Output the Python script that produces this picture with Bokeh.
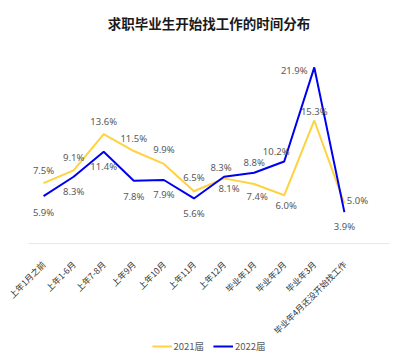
from bokeh.plotting import figure
from bokeh.layouts import column
from bokeh.models import Range1d, FixedTicker, Legend, LegendItem, ColumnDataSource
from bokeh.core.properties import value
from bokeh.embed import file_html
from bokeh.resources import INLINE

categories = ["上年1月之前", "上年1-6月", "上年7-8月", "上年9月", "上年10月", "上年11月",
              "上年12月", "毕业年1月", "毕业年2月", "毕业年3月", "毕业年4月还没开始找工作"]
series_2021 = [7.5, 9.1, 13.6, 11.5, 9.9, 6.5, 8.1, 7.4, 6.0, 15.3, 5.0]
series_2022 = [5.9, 8.3, 11.4, 7.8, 7.9, 5.6, 8.3, 8.8, 10.2, 21.9, 3.9]
series_names = ["2021届", "2022届"]
title_text = "求职毕业生开始找工作的时间分布"

# label placement (screen px offsets from each point; +y is down)
off_2021_x = [0, 0, 0, 0, 0, 0, 5, 3, 2, 0, 13]
off_2021_y = [-13, -13, -13, -13, -14, -14, 10, 12, 10, -9, -3]
off_2022_x = [0, 0, 0, 0, 0, 0, -3, 0, -8, -20, 0]
off_2022_y = [16, 15, 15, 16, 15, 15, -9, -10, -10, 3, 14]

YELLOW = "#FFD23F"
BLUE = "#0000F0"
LABEL_COLOR = "#595959"

xs = list(range(len(categories)))

p = figure(width=400, height=348, output_backend="svg", toolbar_location=None,
           x_range=Range1d(-0.5, 11.5), y_range=Range1d(0, 25),
           min_border_left=28, min_border_right=11, min_border_top=42, min_border_bottom=105)
p.outline_line_color = None
p.xgrid.visible = False
p.ygrid.visible = False
p.yaxis.visible = False
p.background_fill_color = "white"
p.border_fill_color = "white"

p.title.text = title_text
p.title.align = "center"
p.title.text_font = "Noto Sans CJK SC"
p.title.text_font_size = "13.5px"
p.title.text_font_style = "bold"
p.title.text_color = "#1a1a1a"
p.title.standoff = 20

ax = p.xaxis[0]
ax.ticker = FixedTicker(ticks=xs)
ax.major_label_overrides = {i: c for i, c in enumerate(categories)}
ax.major_label_orientation = 0.785398
ax.major_label_text_font = "Noto Sans CJK SC"
ax.major_label_text_font_size = "8.5px"
ax.major_label_text_color = "#333333"
ax.major_label_standoff = 13
ax.axis_line_color = "#E8E8E8"
ax.axis_line_width = 1
ax.major_tick_line_color = None
ax.minor_tick_line_color = None

src21 = ColumnDataSource(dict(x=xs, y=series_2021,
                              t=[f"{v:.1f}%" for v in series_2021],
                              dx=off_2021_x, dy=off_2021_y))
src22 = ColumnDataSource(dict(x=xs, y=series_2022,
                              t=[f"{v:.1f}%" for v in series_2022],
                              dx=off_2022_x, dy=off_2022_y))

p.line("x", "y", source=src21, line_color=YELLOW, line_width=2)
p.line("x", "y", source=src22, line_color=BLUE, line_width=2)

for src in (src21, src22):
    p.text("x", "y", text="t", source=src, x_offset="dx", y_offset="dy",
           text_align="center", text_baseline="middle",
           text_font=value("Noto Sans"), text_font_size="9.5px",
           text_color=LABEL_COLOR)

# legend strip below the chart
lg = figure(width=400, height=20, output_backend="svg", toolbar_location=None,
            x_range=Range1d(-0.5, 11.5), y_range=Range1d(100, 101),
            min_border=0, margin=(-12, 0, 0, 0))
lg.outline_line_color = None
lg.background_fill_alpha = 0
lg.border_fill_alpha = 0
lg.axis.visible = False
lg.grid.visible = False
l21 = lg.line("x", "y", source=src21, line_color=YELLOW, line_width=2)
l22 = lg.line("x", "y", source=src22, line_color=BLUE, line_width=2)
legend = Legend(items=[LegendItem(label=series_names[0], renderers=[l21]),
                       LegendItem(label=series_names[1], renderers=[l22])],
                orientation="horizontal", location="center",
                border_line_color=None, background_fill_alpha=0,
                padding=0, margin=0, spacing=9, label_standoff=2,
                glyph_width=20, glyph_height=16,
                label_text_font="Noto Sans CJK SC", label_text_font_size="9.5px",
                label_text_color=LABEL_COLOR)
lg.add_layout(legend, "center")

layout = column(p, lg, spacing=0)
open("out.html", "w").write(file_html(layout, INLINE))
